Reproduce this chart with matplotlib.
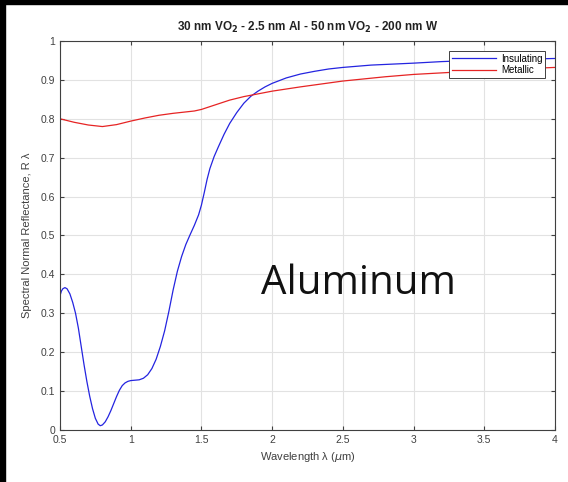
import matplotlib.pyplot as plt
from matplotlib.patches import Rectangle

# reflectance spectra, wavelength in um
wl_ins = [0.50, 0.51, 0.52, 0.535, 0.55, 0.57, 0.59, 0.61, 0.63, 0.65,
          0.67, 0.69, 0.71, 0.73, 0.75, 0.77, 0.785, 0.80, 0.82, 0.84,
          0.86, 0.88, 0.90, 0.92, 0.94, 0.96, 0.98, 1.00, 1.03, 1.06,
          1.09, 1.12, 1.15, 1.18, 1.21, 1.24, 1.27, 1.30, 1.33, 1.36,
          1.39, 1.42, 1.45, 1.48, 1.50, 1.52, 1.54, 1.56, 1.59, 1.62,
          1.66, 1.70, 1.75, 1.80, 1.85, 1.90, 1.95, 2.00, 2.10, 2.20,
          2.30, 2.40, 2.50, 2.70, 3.00, 3.20, 3.50, 3.75, 4.00]
r_ins = [0.345, 0.357, 0.363, 0.366, 0.363, 0.350, 0.328, 0.300, 0.262, 0.215,
         0.168, 0.125, 0.087, 0.055, 0.030, 0.015, 0.011, 0.013, 0.021, 0.034,
         0.050, 0.068, 0.086, 0.102, 0.114, 0.121, 0.125, 0.127, 0.128, 0.129,
         0.133, 0.142, 0.158, 0.182, 0.215, 0.255, 0.305, 0.360, 0.408, 0.446,
         0.477, 0.502, 0.526, 0.553, 0.578, 0.610, 0.644, 0.672, 0.703, 0.728,
         0.760, 0.788, 0.816, 0.840, 0.858, 0.871, 0.882, 0.891, 0.905, 0.915,
         0.922, 0.928, 0.932, 0.938, 0.943, 0.947, 0.951, 0.953, 0.955]

wl_met = [0.50, 0.60, 0.70, 0.80, 0.90, 1.00, 1.10, 1.20, 1.30, 1.40,
          1.45, 1.50, 1.60, 1.70, 1.80, 1.90, 2.00, 2.20, 2.50, 2.80,
          3.00, 3.20, 3.50, 3.80, 4.00]
r_met = [0.800, 0.791, 0.784, 0.780, 0.785, 0.794, 0.802, 0.809, 0.814, 0.818,
         0.820, 0.824, 0.836, 0.848, 0.857, 0.864, 0.871, 0.882, 0.897, 0.908,
         0.914, 0.918, 0.924, 0.929, 0.932]

xticks = [0.5, 1, 1.5, 2, 2.5, 3, 3.5, 4]
yticks = [0, 0.1, 0.2, 0.3, 0.4, 0.5, 0.6, 0.7, 0.8, 0.9, 1]

plt.rcParams['font.family'] = ['Liberation Sans', 'DejaVu Sans']

fig = plt.figure(figsize=(5.68, 4.82), dpi=100)
ax = fig.add_axes([0.1056, 0.1079, 0.8715, 0.8071])

ax.plot(wl_ins, r_ins, color='#2424e0', lw=0.9, label='Insulating')
ax.plot(wl_met, r_met, color='#e62424', lw=0.9, label='Metallic')

ax.set_xlim(0.5, 4)
ax.set_ylim(0, 1)
ax.set_xticks(xticks)
ax.set_xticklabels(['0.5', '1', '1.5', '2', '2.5', '3', '3.5', '4'])
ax.set_yticks(yticks)
ax.set_yticklabels(['0', '0.1', '0.2', '0.3', '0.4', '0.5', '0.6', '0.7', '0.8', '0.9', '1'])
ax.grid(True, color='#e2e2e2', lw=0.8)
ax.set_axisbelow(True)
ax.tick_params(direction='in', top=True, right=True, length=3,
               labelsize=7.5, colors='#404040', labelcolor='#404040')
for s in ax.spines.values():
    s.set_color('#404040')
    s.set_linewidth(0.8)

ax.set_title(r'30 nm VO$_\mathbf{2}$ - 2.5 nm Al - 50 nm VO$_\mathbf{2}$ - 200 nm W',
             fontsize=8.5, fontweight='bold', color='#222222', pad=7)
ax.set_xlabel(r'Wavelength λ ($\mu$m)', fontsize=8, color='#404040', labelpad=4)
ax.set_ylabel('Spectral Normal Reflectance, R λ', fontsize=8, color='#404040', labelpad=6)

leg = ax.legend(loc='upper right', fontsize=7, handlelength=4.5,
                fancybox=False, borderpad=0.3, labelspacing=0.15,
                handletextpad=0.5, borderaxespad=1.0, framealpha=1)
leg.get_frame().set_edgecolor('#404040')
leg.get_frame().set_linewidth(0.7)

ax.text(2.61, 0.375, 'Aluminum', fontsize=29, family=['Open Sans', 'DejaVu Sans'],
        ha='center', va='center', color='#111111')

# dark strips along the left and top edges
fig.patches.append(Rectangle((0, 0), 5 / 568, 1, transform=fig.transFigure,
                             color='black', zorder=10))
fig.patches.append(Rectangle((0, 1 - 4 / 482), 1, 4 / 482, transform=fig.transFigure,
                             color='black', zorder=10))

fig.savefig('out.png', dpi=100)
